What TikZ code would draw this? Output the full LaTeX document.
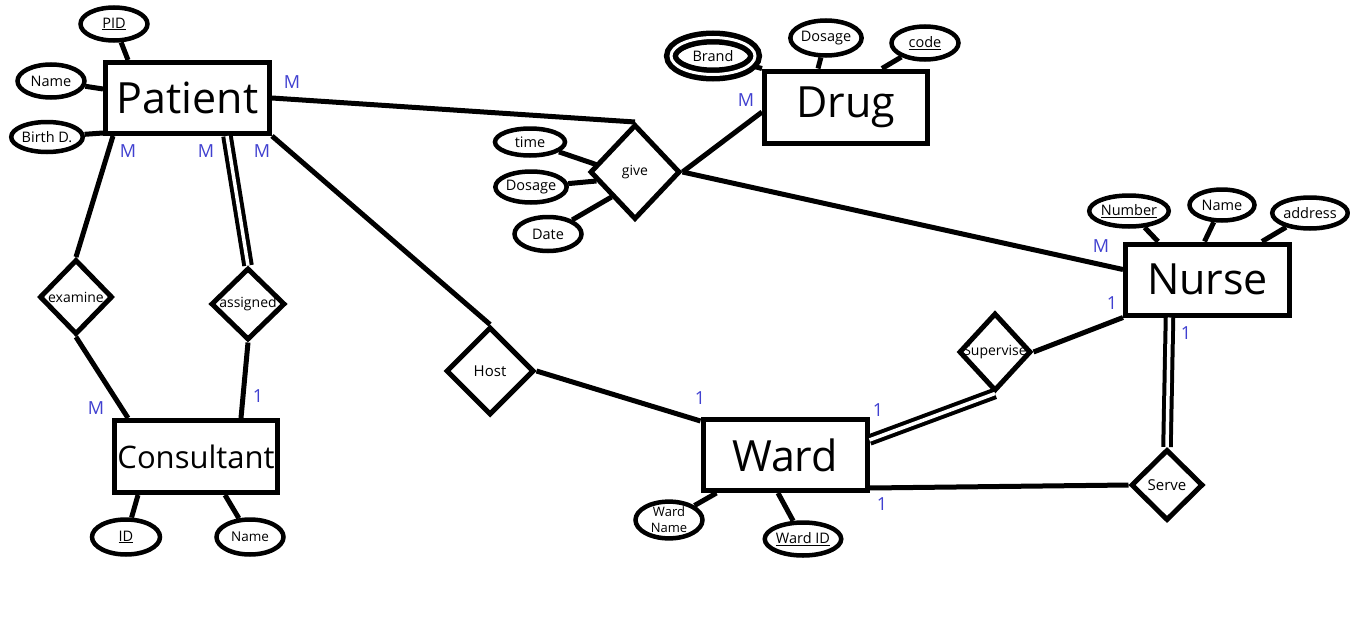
\documentclass[tikz,border=0pt]{standalone}
\usepackage{fontspec}
\setmainfont{Open Sans}
\usetikzlibrary{shapes.geometric,calc}
\definecolor{lblue}{RGB}{64,64,208}
\begin{document}
\begin{tikzpicture}[x=1pt,y=-1pt,
 ent/.style={draw,line width=5pt,rectangle,inner sep=0pt,minimum width=164pt,minimum height=71pt,font=\fontsize{43}{50}\selectfont},
 attr/.style={draw,line width=4.5pt,ellipse,inner sep=0pt,minimum width=67pt,minimum height=33pt,font=\fontsize{14.5}{16}\selectfont},
 rel/.style={draw,line width=5pt,diamond,inner sep=0pt},
 rlab/.style={font=\fontsize{14}{16}\selectfont},
 conn/.style={line width=5pt},
 dbl/.style={line width=4pt,double,double distance=3.5pt},
 card/.style={text=lblue,font=\fontsize{18}{20}\selectfont,inner sep=0pt}
]
\useasboundingbox[fill=white] (0,0) rectangle (1350,629);

% entities
\node[ent] (patient) at (187.5,98) {Patient};
\node[ent,minimum width=163pt,minimum height=72pt] (drug) at (846,107) {Drug};
\node[ent] (nurse) at (1207.5,279.5) {Nurse};
\node[ent] (ward) at (785,455) {Ward};
\node[ent,minimum width=163pt,minimum height=72pt,font=\fontsize{31}{36}\selectfont] (consultant) at (196,456.5) {Consultant};

% attributes
\node[attr] (pid) at (114,24) {\underline{PID}};
\node[attr] (pname) at (51,81) {Name};
\node[attr,minimum height=30pt] (birth) at (47,137) {Birth D.};
\node[attr,minimum width=84pt,minimum height=37pt,draw,double,line width=5.5pt,double distance=3pt] (brand) at (713,56) {Brand};
\node[attr,minimum height=35pt] (ddosage) at (826,38) {Dosage};
\node[attr] (code) at (925,43) {\underline{code}};
\node[attr,minimum width=70pt,minimum height=27pt] (time) at (530,142) {time};
\node[attr,minimum width=70pt,minimum height=31pt] (gdosage) at (531,187) {Dosage};
\node[attr,minimum height=34pt] (date) at (548,234) {Date};
\node[attr,minimum height=31pt] (number) at (1129,211) {\underline{Number}};
\node[attr,minimum width=65pt,minimum height=31pt] (nname) at (1222,205) {Name};
\node[attr,minimum width=69pt,minimum height=31pt] (address) at (1310,213) {address};
\node[attr,minimum height=36pt,align=center,font=\fontsize{13}{16}\selectfont] (wname) at (669,520) {Ward\\Name};
\node[attr,minimum width=68pt,minimum height=33pt] (wid) at (803,539) {\underline{Ward ID}};
\node[attr,minimum width=68pt,minimum height=35pt] (cid) at (126,537) {\underline{ID}};
\node[attr,minimum height=35pt,font=\fontsize{13.5}{15}\selectfont] (cname) at (250,537) {Name};

% relationships
\node[rel,minimum width=90pt,minimum height=95pt,label={[rlab]center:give}] (give) at (635,172) {};
\node[rel,minimum width=73pt,minimum height=75pt,label={[rlab]center:examine}] (examine) at (76,297) {};
\node[rel,minimum width=74pt,minimum height=72pt,label={[rlab]center:assigned}] (assigned) at (248,304) {};
\node[rel,minimum width=88pt,minimum height=88pt,label={[rlab,font=\fontsize{15}{17}\selectfont]center:Host}] (host) at (490,371) {};
\node[rel,minimum width=72pt,minimum height=78pt,label={[rlab]center:Supervise}] (supervise) at (995,352) {};
\node[rel,minimum width=72pt,minimum height=71pt,label={[rlab,font=\fontsize{15}{17}\selectfont]center:Serve}] (serve) at (1167,485) {};

% attribute connectors
\draw[conn] (pid) -- ($(patient.north west)+(25,0)$);
\draw[conn] (pname) -- ($(patient.west)+(0,-9)$);
\draw[conn] (birth) -- ($(patient.south west)+(0,-3)$);
\draw[conn] (brand) -- (drug.north west);
\draw[conn] (ddosage) -- ($(drug.north)+(-28,0)$);
\draw[conn] (code) -- ($(drug.north east)+(-48,0)$);
\draw[conn] (time) -- ($(give.west)+(10,-7)$);
\draw[conn] (gdosage) -- ($(give.west)+(9,9)$);
\draw[conn] (date) -- ($(give.west)+(24,25)$);
\draw[conn] (number) -- ($(nurse.north west)+(35,0)$);
\draw[conn] (nname) -- ($(nurse.north)+(-3,0)$);
\draw[conn] (address) -- ($(nurse.north east)+(-30,0)$);
\draw[conn] (wname) -- ($(ward.south west)+(16,0)$);
\draw[conn] (wid) -- ($(ward.south)+(-7,0)$);
\draw[conn] (cid) -- ($(consultant.south west)+(26,0)$);
\draw[conn] (cname) -- ($(consultant.south east)+(-55,0)$);

% relationship connectors
\draw[conn] (patient.east) -- (give.north);
\draw[conn] (give.east) -- ($(drug.west)+(0,5)$);
\draw[conn] (give.east) -- ($(nurse.west)+(0,-10)$);
\draw[conn] ($(patient.south west)+(10,0)$) -- (examine.north);
\draw[conn] (examine.south) -- ($(consultant.north west)+(16,0)$);
\draw[dbl] ($(patient.south west)+(124,0)$) -- (assigned.north);
\draw[conn] (assigned.south) -- ($(consultant.north east)+(-39,0)$);
\draw[conn] (patient.south east) -- (host.north);
\draw[conn] (host.east) -- ($(ward.north west)+(0,4)$);
\draw[conn] (supervise.east) -- (nurse.south west);
\draw[dbl] (supervise.south) -- ($(ward.east)+(0,-15)$);
\draw[dbl] ($(nurse.south)+(-38,0)$) -- (serve.north);
\draw[conn] ($(ward.south east)+(0,-5)$) -- (serve.west);

% cardinalities
\node[card] (c1) at (292,82) {M};
\node[card] (c2) at (128,151) {M};
\node[card] (c3) at (206,151) {M};
\node[card] (c4) at (262,151) {M};
\node[card] (c5) at (746,100) {M};
\node[card] (c6) at (1101,246) {M};
\node[card] (c7) at (1112,303) {1};
\node[card] (c8) at (1186,333) {1};
\node[card] (c9) at (700,398) {1};
\node[card] (c10) at (878,410) {1};
\node[card] (c11) at (882,504) {1};
\node[card] (c12) at (96,408) {M};
\node[card] (c13) at (258,396) {1};
\end{tikzpicture}
\end{document}
